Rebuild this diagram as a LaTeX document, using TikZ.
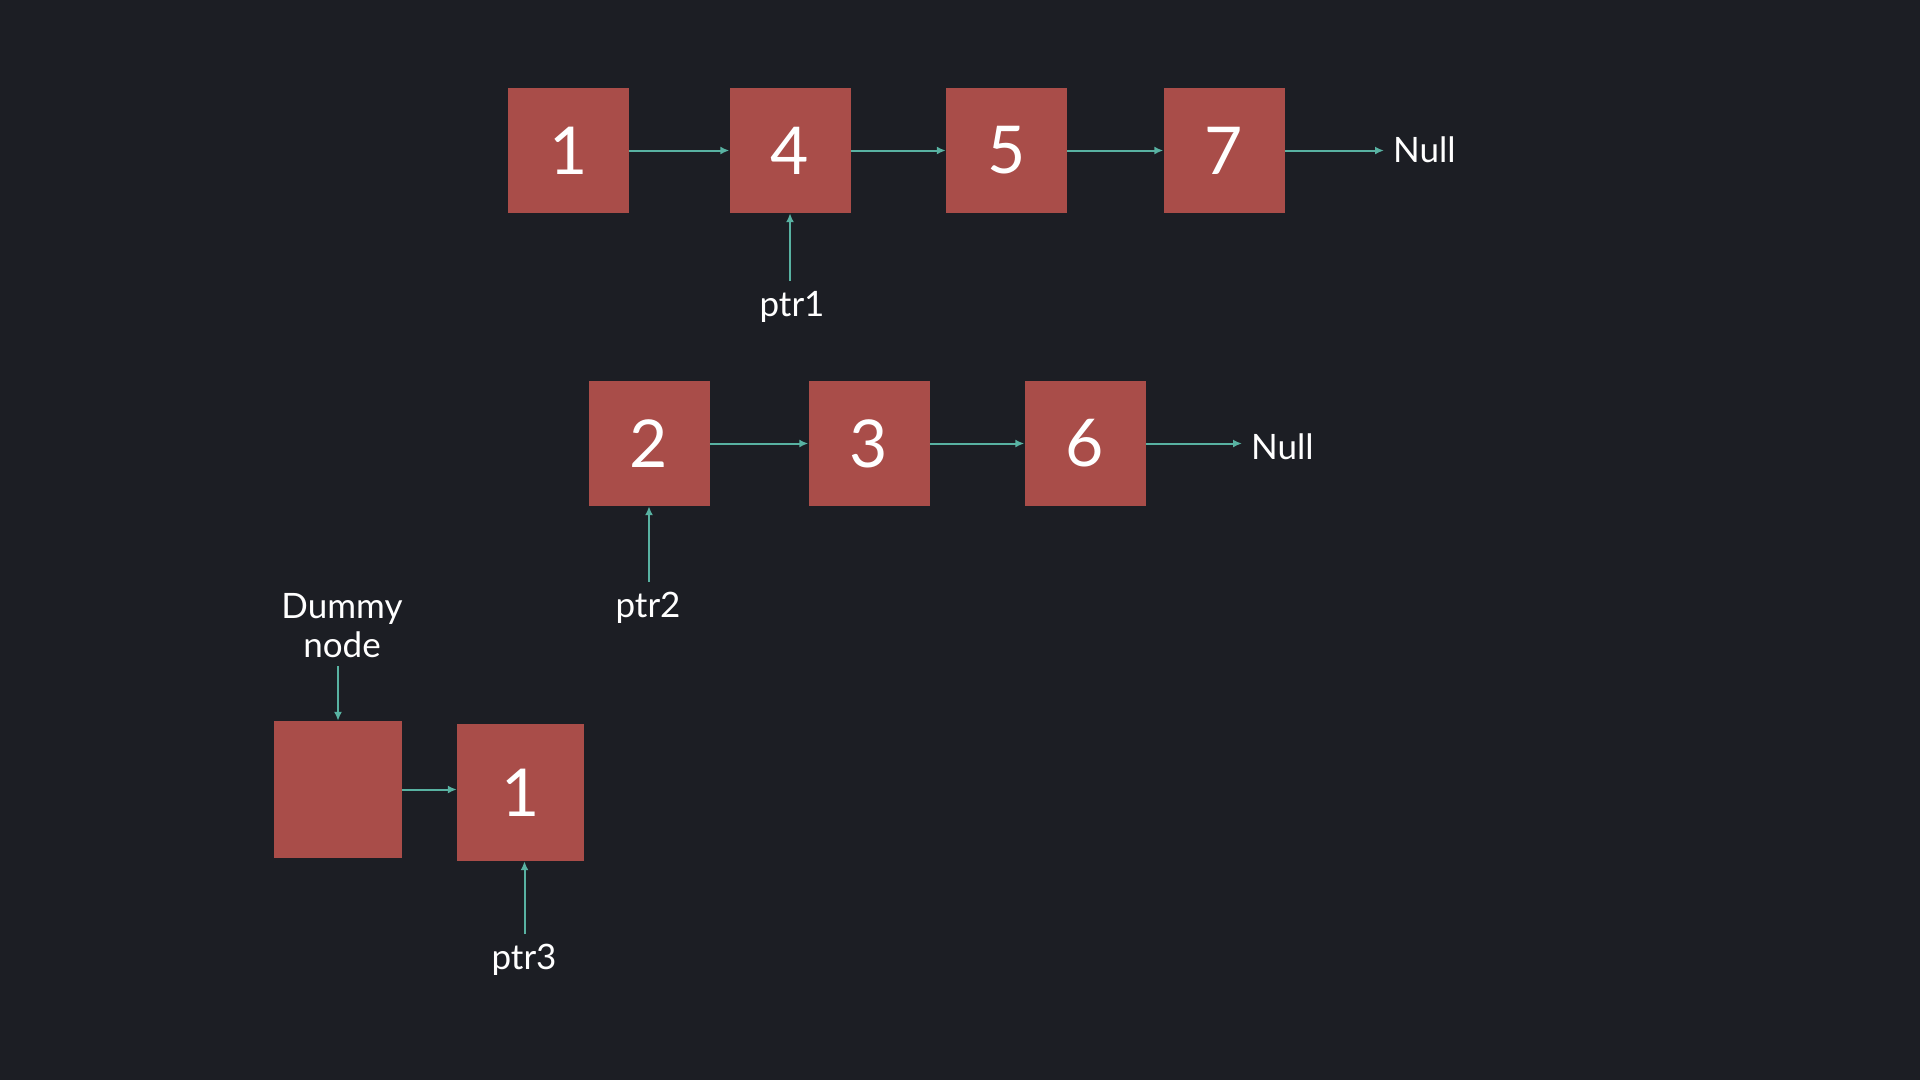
\documentclass[tikz,border=0pt]{standalone}
\usepackage{fontspec}
\setmainfont{Lato}
\usetikzlibrary{arrows.meta}
\definecolor{bgc}{RGB}{28,30,36}
\definecolor{boxc}{RGB}{169,77,73}
\definecolor{arrc}{RGB}{88,178,162}
\tikzset{
  llnode/.style={fill=boxc, draw=none, inner sep=0pt, text=white,
    minimum width=121pt, minimum height=125pt,
    font=\fontsize{66pt}{70pt}\selectfont},
  lbl/.style={text=white, inner sep=0pt, font=\fontsize{35pt}{39pt}\selectfont, align=center},
  link/.style={draw=arrc, line width=2pt, -{Latex[length=9pt,width=8pt]}}
}
\begin{document}
\begin{tikzpicture}[x=1pt,y=-1pt]
\fill[bgc] (0,0) rectangle (1920,1080);
\useasboundingbox (0,0) rectangle (1920,1080);

% Row 1
\node[llnode] (a1) at (568.5,150.5) {1};
\node[llnode] (a4) at (790,150.5) {4};
\node[llnode] (a5) at (1006.5,150.5) {5};
\node[llnode] (a7) at (1224,150.5) {7};
\node[lbl, anchor=west] (n1) at (1393,150) {Null};
\node[lbl] (p1) at (792,307) {ptr1};
\draw[link] (a1) -- (a4);
\draw[link] (a4) -- (a5);
\draw[link] (a5) -- (a7);
\draw[link, shorten >=9pt] (a7.east) -- (a7.east -| n1.west);
\draw[link, shorten <=10pt] (p1.north -| a4) -- (a4.south);

% Row 2
\node[llnode] (b2) at (649,443.5) {2};
\node[llnode] (b3) at (869,443.5) {3};
\node[llnode] (b6) at (1085,443.5) {6};
\node[lbl, anchor=west] (n2) at (1251,447) {Null};
\node[lbl] (p2) at (648,608) {ptr2};
\draw[link] (b2) -- (b3);
\draw[link] (b3) -- (b6);
\draw[link, shorten >=9pt] (b6.east) -- (b6.east -| n2.west);
\draw[link, shorten <=10pt] (p2.north -| b2) -- (b2.south);

% Row 3
\node[llnode, minimum width=128pt, minimum height=137pt] (d) at (338,789.5) {};
\node[llnode, minimum width=127pt, minimum height=137pt] (c1) at (520.5,792.5) {1};
\node[lbl] (dl) at (342,626) {Dummy\\node};
\node[lbl] (p3) at (524,960) {ptr3};
\draw[link] (d.east) -- (d.east -| c1.west);
\draw[link, shorten <=8pt] (dl.south -| d) -- (d.north);
\draw[link, shorten <=10pt] ([xshift=4pt]p3.north -| c1) -- ([xshift=4pt]c1.south);
\end{tikzpicture}
\end{document}
